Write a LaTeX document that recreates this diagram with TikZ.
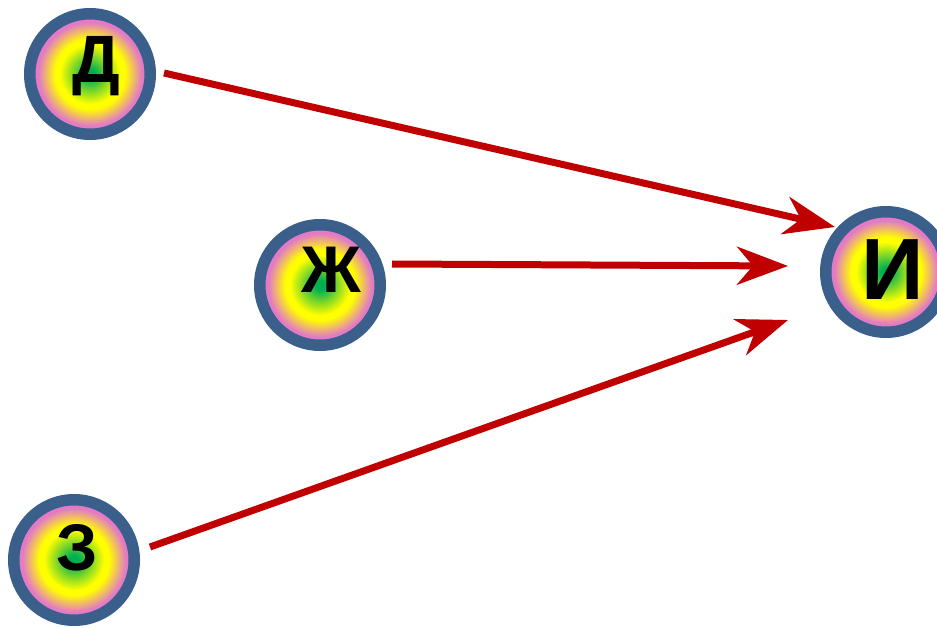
\documentclass[tikz,border=0pt]{standalone}
\usepackage{fontspec}
\setmainfont{Liberation Sans}
\usetikzlibrary{arrows.meta}
\definecolor{ringblue}{HTML}{3A5F8B}
\definecolor{arrred}{HTML}{C00000}
\definecolor{ctrgreen}{HTML}{00B050}
\definecolor{midyellow}{HTML}{FFFF00}
\definecolor{edgepink}{HTML}{E27AC6}
\pgfdeclareradialshading{ballshade}{\pgfpoint{0bp}{0bp}}{%
  color(0bp)=(ctrgreen); color(2bp)=(ctrgreen); color(12.5bp)=(midyellow);
  color(14.5bp)=(midyellow); color(21.5bp)=(edgepink); color(50bp)=(edgepink)}
\newcommand\ballText[4]{\raisebox{#2}[0pt][0pt]{\makebox[0pt]{\hspace*{#1}\fontsize{#3}{#3}\selectfont\bfseries #4}}}
\begin{document}
\begin{tikzpicture}[x=1pt,y=1pt,
  ball/.style={circle,draw=ringblue,line width=11.5pt,shading=ballshade,
    minimum size=120.5pt,inner sep=0pt},
  arr/.style={draw=arrred,line width=7pt,
    -{Stealth[length=51pt,width=38pt,inset=16pt]}}]
\useasboundingbox (0,0) rectangle (937,627);
\node[ball] (D) at (90,553) {\ballText{12pt}{-9pt}{67pt}{Д}};
\node[ball] (Zh) at (320,342) {\ballText{22pt}{-8pt}{66pt}{Ж}};
\node[ball] (Z) at (74,67) {\ballText{6pt}{-10pt}{66pt}{З}};
\node[ball] (I) at (886,355) {\ballText{14pt}{-28pt}{87pt}{И}};
\coordinate (s1) at (164,554);
\coordinate (t1) at (835,400);
\coordinate (s2) at (392,363);
\coordinate (t2) at (788,361);
\coordinate (s3) at (150,80);
\coordinate (t3) at (788,307);
\draw[arr] (s1) -- (t1);
\draw[arr] (s2) -- (t2);
\draw[arr] (s3) -- (t3);
\end{tikzpicture}
\end{document}
